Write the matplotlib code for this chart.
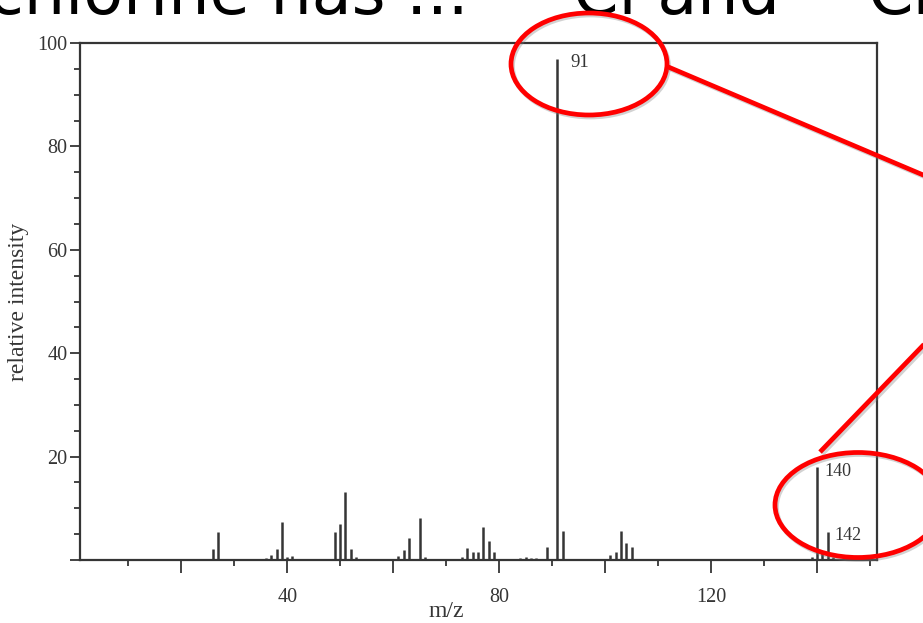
import matplotlib

matplotlib.use("Agg")
import matplotlib.pyplot as plt
import matplotlib.patheffects as pe
from matplotlib.patches import Ellipse
from matplotlib.ticker import MultipleLocator, FuncFormatter

# mass spectrum: m/z and relative intensity
MZ = [26, 27, 36, 37, 38, 39, 40, 41, 49, 50, 51, 52, 53,
      61, 62, 63, 65, 66, 73, 74, 75, 76, 77, 78, 79,
      84, 85, 86, 87, 89, 91, 92, 101, 102, 103, 104, 105,
      139, 140, 141, 142, 143]
INTENSITY = [2.2, 5.5, 0.3, 1.0, 2.1, 7.4, 0.6, 0.8, 5.4, 7.0, 13.2, 2.1, 0.6,
             0.7, 2.0, 4.3, 8.2, 0.6, 0.5, 2.4, 1.6, 1.6, 6.4, 3.6, 1.6,
             0.3, 0.5, 0.4, 0.3, 2.6, 97.0, 5.6, 1.0, 1.5, 5.6, 3.3, 2.6,
             0.5, 18.0, 1.5, 5.5, 0.6]
LABELLED = [91, 140, 142]
XTICK_LABELS = [40, 80, 120]

W, H = 923, 623
INK = "#353535"
RED = "#ff0000"
SERIF = ["Liberation Serif", "DejaVu Serif"]


def px(x, y):
    return x / W, 1 - y / H


fig = plt.figure(figsize=(W / 100, H / 100), dpi=100)
ax = fig.add_axes([80 / W, 1 - 560 / H, 797 / W, 517 / H])

ax.vlines(MZ, 0, INTENSITY, color=INK, lw=1.8)
for m in LABELLED:
    h = INTENSITY[MZ.index(m)]
    dx = 9 if m == 91 else 5
    ax.annotate(str(m), (m, h), xytext=(dx, -3), textcoords="offset points",
                va="center", ha="left", fontsize=13.5 if m == 91 else 13,
                family=SERIF, color=INK)

ax.set_xlim(0.9, 151.3)
ax.set_ylim(0, 100)

ax.xaxis.set_major_locator(MultipleLocator(20))
ax.xaxis.set_minor_locator(MultipleLocator(10))
ax.xaxis.set_major_formatter(FuncFormatter(
    lambda v, _: f"{v:.0f}" if round(v) in XTICK_LABELS else ""))
ax.yaxis.set_major_locator(MultipleLocator(20))
ax.yaxis.set_minor_locator(MultipleLocator(5))
ax.yaxis.set_major_formatter(FuncFormatter(lambda v, _: f"{v:.0f}" if v > 0 else ""))

ax.tick_params(axis="x", which="major", direction="out", length=9.5, width=1.3,
               color=INK, pad=11, labelsize=14.5, labelcolor=INK)
ax.tick_params(axis="x", which="minor", direction="out", length=4.5, width=1.3, color=INK)
ax.tick_params(axis="y", which="major", direction="out", length=7, width=1.3,
               color=INK, pad=2, labelsize=14.5, labelcolor=INK)
ax.tick_params(axis="y", which="minor", direction="out", length=4.5, width=1.3, color=INK)
for lab in ax.get_xticklabels() + ax.get_yticklabels():
    lab.set_family(SERIF)

for s in ax.spines.values():
    s.set_color(INK)
    s.set_linewidth(1.6)

ax.set_xlabel("m/z", family=SERIF, fontsize=17, color=INK)
ax.xaxis.set_label_coords(0.46, -0.08)
ax.set_ylabel("relative intensity", family=SERIF, fontsize=17, color=INK)
ax.yaxis.set_label_coords(-0.064, 0.5)

# slide heading, cut by the top edge
head = dict(fontsize=47, family="DejaVu Sans", color="black", va="baseline")
fig.text(*px(-12, 14), "chlorine has ...", ha="left", **head)
fig.text(*px(573, 14), "\u00b3\u2075", ha="right", **head)
fig.text(*px(573, 14), "Cl and", ha="left", **head)
fig.text(*px(867, 14), "\u00b3\u2077", ha="right", **head)
fig.text(*px(867, 14), "Cl", ha="left", **head)

# red call-outs with a faint drop shadow
for cx, cy, w, h in [(589, 64, 156, 102), (858, 505, 166, 105)]:
    for dx, dy, col, a in [(1.5, 2, "gray", 0.35), (0, 0, RED, 1.0)]:
        fig.add_artist(Ellipse(px(cx + dx, cy + dy), w / W, h / H,
                               transform=fig.transFigure, fill=False,
                               edgecolor=col, alpha=a, lw=3.4, zorder=5))
shadow = [pe.SimpleLineShadow(offset=(1.5, -1.5), shadow_color="gray", alpha=0.35), pe.Normal()]
for (x0, y0), (x1, y1) in [((666, 66), (935, 180)), ((820, 452), (935, 333))]:
    ln = plt.Line2D([x0 / W, x1 / W], [1 - y0 / H, 1 - y1 / H], transform=fig.transFigure,
                    color=RED, lw=3.4, zorder=5, solid_capstyle="butt")
    ln.set_path_effects(shadow)
    fig.add_artist(ln)

fig.savefig("out.png", dpi=100)
